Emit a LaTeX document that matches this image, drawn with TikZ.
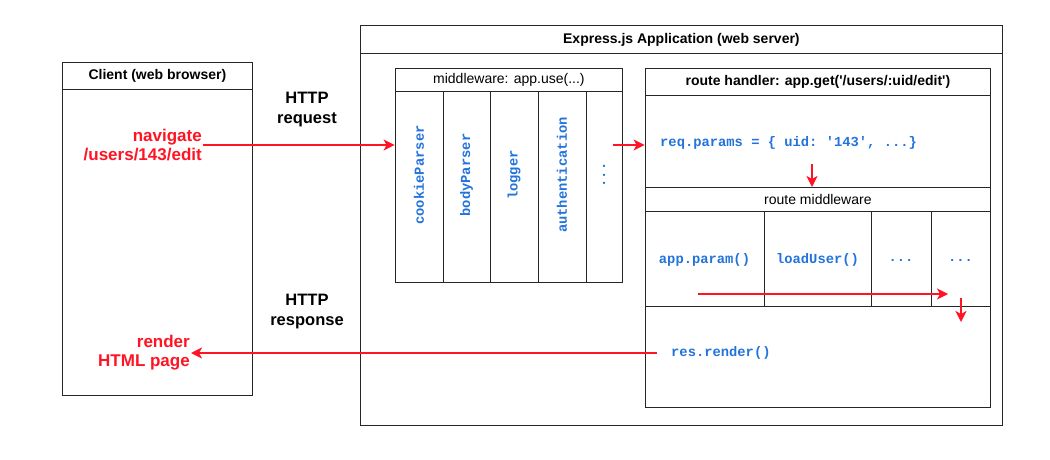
\documentclass[tikz,border=0pt]{standalone}
\usepackage{fontspec}
\setmainfont{Liberation Sans}
\setmonofont{Liberation Mono}
\usetikzlibrary{fit,arrows.meta}
\definecolor{ared}{RGB}{255,20,35}
\definecolor{codeblue}{RGB}{35,115,220}
\begin{document}
\begin{tikzpicture}[x=1pt,y=-1pt,
  box/.style={draw=black!85, line width=0.8pt, inner sep=0pt},
  hbox/.style={draw=black!85, line width=0.8pt, inner sep=0pt, anchor=north west},
  ttl/.style={font=\bfseries\fontsize{14}{16}\selectfont},
  lbl/.style={font=\fontsize{14}{16}\selectfont},
  code/.style={font=\ttfamily\bfseries\fontsize{13.8}{15}\selectfont, text=codeblue, inner sep=0pt},
  redlbl/.style={font=\bfseries\fontsize{17}{19}\selectfont, text=ared, align=right, inner sep=1pt},
  http/.style={font=\bfseries\fontsize{16.5}{20}\selectfont, align=center},
  flow/.style={draw=ared, line width=1.6pt, -{Stealth[length=11pt,width=11pt,inset=3pt]}}
]
\useasboundingbox (0,0) rectangle (1050,460);
\fill[white] (0,0) rectangle (1050,460);

% Client
\node[box, fit={(62,62)(252,395)}] (client) {};
\node[hbox, ttl, minimum width=190pt, minimum height=27pt] (clienthead) at (62,62) {Client (web browser)};

% Express app
\node[box, fit={(360,25)(1002,425)}] (express) {};
\node[hbox, ttl, minimum width=642pt, minimum height=28pt] (expresshead) at (360,25) {Express.js Application (web server)};

% Middleware
\node[box, fit={(395,68)(622,282)}] (mw) {};
\node[hbox, lbl, minimum width=227pt, minimum height=23pt] (mwhead) at (395,68) {middleware: app.use(...)};
\node[box, fit={(395,91)(443,282)}] (mwc1) {};
\node[box, fit={(443,91)(490,282)}] (mwc2) {};
\node[box, fit={(490,91)(538,282)}] (mwc3) {};
\node[box, fit={(538,91)(586,282)}] (mwc4) {};
\node[box, fit={(586,91)(622,282)}] (mwc5) {};
\node[code, rotate=90] (cp) at (419,175) {cookieParser};
\node[code, rotate=90] (bp) at (466.5,175) {bodyParser};
\node[code, rotate=90] (lg) at (514,175) {logger};
\node[code, rotate=90] (au) at (562,175) {authentication};
\node[code, rotate=90] (md) at (604,175) {...};

% Route handler
\node[box, fit={(645,68)(990,407)}] (rh) {};
\node[hbox, ttl, minimum width=345pt, minimum height=27pt] (rhhead) at (645,68) {route handler: app.get(\textquotesingle/users/:uid/edit\textquotesingle)};
\node[hbox, lbl, minimum width=345pt, minimum height=24pt] (rmhead) at (645,187) {route middleware};
\node[box, fit={(645,211)(764,306)}] (rm1) {};
\node[box, fit={(764,211)(871,306)}] (rm2) {};
\node[box, fit={(871,211)(931,306)}] (rm3) {};
\node[box, fit={(931,211)(990,306)}] (rm4) {};
\node[code] (ap) at (704.5,260) {app.param()};
\node[code] (lu) at (817.5,260) {loadUser()};
\node[code] (d3) at (901,260) {...};
\node[code] (d4) at (960.5,260) {...};
\node[code, anchor=west] (rp) at (660,143) {req.params = \{ uid: '143', ...\}};
\node[code, anchor=west] (rr) at (671,353) {res.render()};

% Client labels
\node[redlbl, anchor=east] (nav) at (203,145) {navigate\\/users/143/edit};
\node[redlbl, anchor=east] (rend) at (191,353) {render\\HTML page};
\node[http] (req) at (307,110) {HTTP\\request};
\node[http] (resp) at (307,312) {HTTP\\response};

% Flows
\coordinate (mwout) at (613,145);
\coordinate (rpdown) at (812,164);
\coordinate (rmstart) at (698,294);
\coordinate (rmend) at (948,294);
\coordinate (dn) at (961,298);
\coordinate (dnend) at (961,322);
\draw[flow] (nav.east |- 0,145) -- (mw.west |- 0,145);
\draw[flow] (mwout) -- (mwout -| rh.west);
\draw[flow] (rpdown) -- (rpdown |- rmhead.north);
\draw[flow] (rmstart) -- (rmend);
\draw[flow] (dn) -- (dnend);
\draw[flow] ([xshift=-14pt]rr.west) -- (rend.east);
\end{tikzpicture}
\end{document}
